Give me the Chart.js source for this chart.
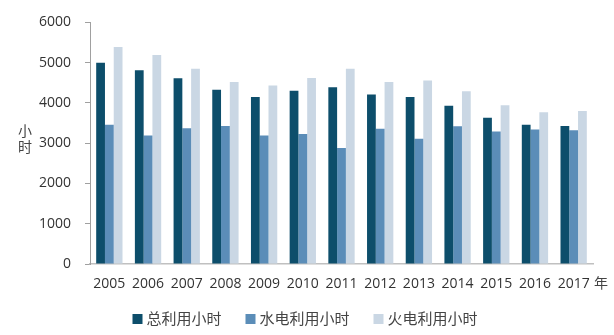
<!DOCTYPE html>
<html lang="zh">
<head>
    <meta charset="UTF-8">
    <title>发电设备利用小时</title>
    <script src="https://cdn.jsdelivr.net/npm/chart.js"></script>
    <style>
        body {
            margin: 0;
            background: white;
        }
        #hoursChart {
            display: block;
        }
    </style>
</head>
<body>
    <canvas id="hoursChart" width="614" height="335"></canvas>

    <script>
        // 年份与各类利用小时数
        const years = ['2005', '2006', '2007', '2008', '2009', '2010', '2011', '2012', '2013', '2014', '2015', '2016', '2017'];
        const totalHours = [5000, 4810, 4610, 4330, 4150, 4300, 4390, 4210, 4150, 3930, 3630, 3460, 3430];
        const hydroHours = [3460, 3190, 3370, 3430, 3190, 3230, 2880, 3360, 3110, 3420, 3290, 3340, 3320];
        const thermalHours = [5390, 5190, 4850, 4520, 4430, 4620, 4850, 4520, 4560, 4290, 3940, 3770, 3800];
        const yTicks = [0, 1000, 2000, 3000, 4000, 5000, 6000];

        const seriesNames = ['总利用小时', '水电利用小时', '火电利用小时'];
        const seriesColors = ['#0d4e6b', '#5b8db8', '#cad7e4'];

        const FONT = "'Open Sans', 'Noto Sans CJK SC', sans-serif";
        const TEXT_COLOR = '#333';

        // 轴标题（竖排“小时”、“年”）和底部图例
        const extras = {
            id: 'extras',
            afterDraw(chart) {
                const c = chart.ctx;
                const area = chart.chartArea;
                c.save();
                c.fillStyle = '#444';
                c.font = '14px ' + FONT;
                c.textAlign = 'center';
                c.textBaseline = 'middle';
                c.fillText('小', 25, 132);
                c.fillText('时', 25, 148);
                c.fillText('年', area.right + 8, 284);

                // 图例
                c.font = '15px ' + FONT;
                c.textAlign = 'left';
                const box = 10, gapText = 4, gapItem = 24, y = 319;
                const widths = chart.data.datasets.map(d => box + gapText + c.measureText(d.label).width);
                const total = widths.reduce((a, b) => a + b, 0) + gapItem * (widths.length - 1);
                let x = 305 - total / 2;
                chart.data.datasets.forEach((d, i) => {
                    c.fillStyle = d.backgroundColor;
                    c.fillRect(x, y - box / 2, box, box);
                    c.fillStyle = '#444';
                    c.fillText(d.label, x + box + gapText, y + 1);
                    x += widths[i] + gapItem;
                });
                c.restore();
            }
        };

        const ctx = document.getElementById('hoursChart').getContext('2d');
        new Chart(ctx, {
            type: 'bar',
            data: {
                labels: years,
                datasets: [
                    { label: seriesNames[0], data: totalHours, backgroundColor: seriesColors[0] },
                    { label: seriesNames[1], data: hydroHours, backgroundColor: seriesColors[1] },
                    { label: seriesNames[2], data: thermalHours, backgroundColor: seriesColors[2] }
                ]
            },
            options: {
                responsive: false,
                animation: false,
                datasets: {
                    bar: {
                        categoryPercentage: 0.68,
                        barPercentage: 1.0,
                        borderWidth: 0
                    }
                },
                layout: {
                    padding: { top: 16, right: 21, bottom: 41, left: 0 }
                },
                scales: {
                    x: {
                        grid: { display: true, drawOnChartArea: false, drawTicks: false },
                        border: { color: '#c0c0c0', width: 1.5 },
                        ticks: {
                            color: TEXT_COLOR,
                            font: { family: FONT, size: 14 },
                            padding: 12,
                            maxRotation: 0
                        },
                        afterFit(scale) { scale.height = 30; }
                    },
                    y: {
                        min: 0,
                        max: 6000,
                        afterBuildTicks(scale) {
                            scale.ticks = yTicks.map(v => ({ value: v }));
                        },
                        grid: {
                            drawOnChartArea: false,
                            drawTicks: true,
                            tickLength: 5,
                            color: '#a0a0a0'
                        },
                        border: { color: '#a0a0a0', width: 1 },
                        ticks: {
                            color: TEXT_COLOR,
                            font: { family: FONT, size: 14 },
                            padding: 14,
                            callback: v => String(v)
                        },
                        afterFit(scale) { scale.width = 90; }
                    }
                },
                plugins: {
                    legend: { display: false },
                    tooltip: { enabled: false }
                }
            },
            plugins: [extras]
        });
    </script>
</body>
</html>
